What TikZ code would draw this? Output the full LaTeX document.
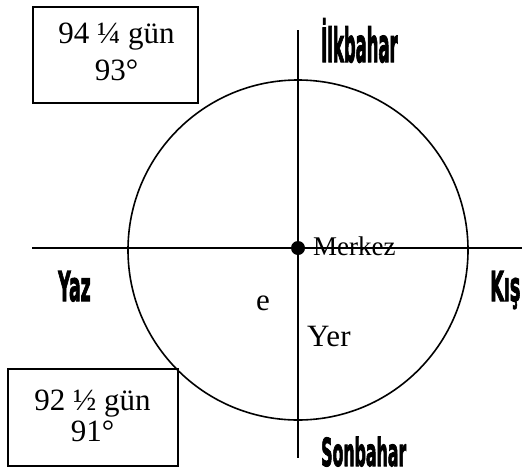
\documentclass[tikz,border=0pt]{standalone}
\usepackage{fontspec}
\setmainfont{Liberation Serif}
\newfontfamily\heavy{DejaVu Sans}[UprightFont={* Bold}, FakeBold=3]
\tikzset{
  ln/.style={line width=1.6pt, black},
  boxn/.style={draw, line width=1.6pt, inner sep=0pt},
  txt/.style={inner sep=0pt, font=\fontsize{31}{34}\selectfont},
  season/.style={inner sep=0pt, anchor=base west},
}
\begin{document}
\begin{tikzpicture}[x=1pt,y=-1pt]
\useasboundingbox (0,0) rectangle (524,474);
% boxes
\node[boxn, minimum width=165pt, minimum height=96pt] (box1) at (115.5,55) {};
\node[txt, anchor=base] (b1a) at (116.5,43) {94 ¼ gün};
\node[txt, anchor=base] (b1b) at (116.5,80) {93°};
\node[boxn, minimum width=170pt, minimum height=97pt] (box2) at (93,417.5) {};
\node[txt, anchor=base] (b2a) at (92.5,410) {92 ½ gün};
\node[txt, anchor=base] (b2b) at (92.5,441) {91°};
% orbit
\node[draw, circle, line width=1.6pt, minimum size=340pt, inner sep=0pt] (orbit) at (298,250) {};
% axes
\coordinate (vtop) at (298,30);
\coordinate (vbot) at (298,458);
\coordinate (hl) at (32,248);
\coordinate (hr) at (522,248);
\draw[ln] (vtop) -- (vbot);
\draw[ln] (hl) -- (hr);
\node[circle, fill=black, minimum size=14pt, inner sep=0pt] (center) at (298,248) {};
% labels
\node[inner sep=0pt, font=\fontsize{27}{30}\selectfont, anchor=base west] (merkez) at (313,255.7) {Merkez};
\node[txt, anchor=base] (e) at (263,310.5) {e};
\node[txt, anchor=base west] (yer) at (307,346) {Yer};
\node[season, font=\heavy\fontsize{41}{41}\selectfont] (yaz) at (58,301) {\scalebox{0.42}[1]{Yaz}};
\node[season, font=\heavy\fontsize{41}{41}\selectfont] (kis) at (490,301) {\scalebox{0.43}[1]{Kış}};
\node[season, font=\heavy\fontsize{38.5}{38.5}\selectfont] (sonbahar) at (321,466) {\scalebox{0.41}[1]{Sonbahar}};
\node[season, font=\heavy\fontsize{47}{47}\selectfont] (ilkbahar) at (321,62) {\scalebox{0.35}[1]{İlkbahar}};
\end{tikzpicture}
\end{document}
